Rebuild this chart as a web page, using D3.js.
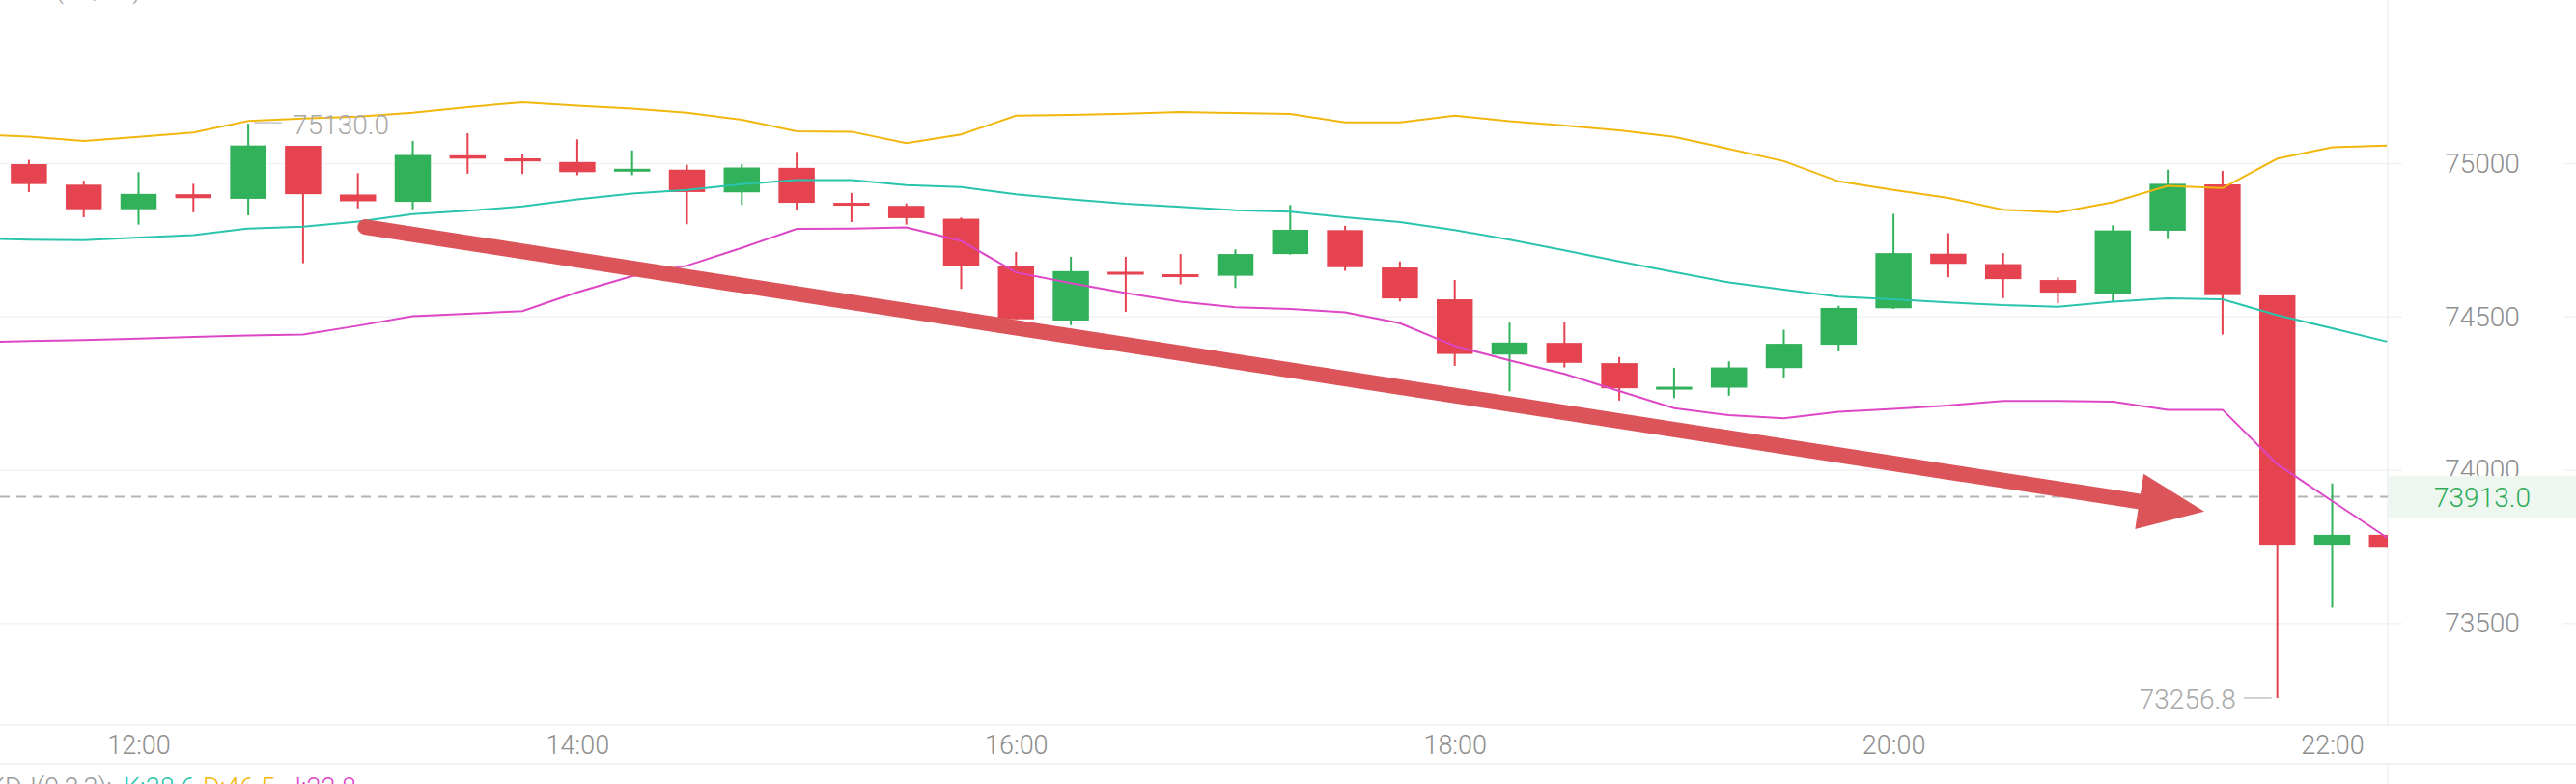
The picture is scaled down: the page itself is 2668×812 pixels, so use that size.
<!DOCTYPE html>
<html>
<head>
<meta charset="utf-8">
<script src="https://cdn.jsdelivr.net/npm/d3@7"></script>
<style>
  body { margin: 0; background: #fff; }
  svg { display: block; font-family: Roboto, "Noto Sans", sans-serif; font-weight: 300; }
</style>
</head>
<body>
<div class="chartCont"></div>
<script>
const w = 2668;
const h = 812;

// 15 minute candles
const times = ["11:30","11:45","12:00","12:15","12:30","12:45","13:00","13:15","13:30","13:45",
  "14:00","14:15","14:30","14:45","15:00","15:15","15:30","15:45","16:00","16:15",
  "16:30","16:45","17:00","17:15","17:30","17:45","18:00","18:15","18:30","18:45",
  "19:00","19:15","19:30","19:45","20:00","20:15","20:30","20:45","21:00","21:15",
  "21:30","21:45","22:00","22:15"];
const open = [74998,74931,74851,74900,74885,75058,74899,74875,75027,75017,
  75005,74977,74980,74906,74986,74872,74862,74820,74667,74488,
  74647,74639,74634,74705,74783,74661,74557,74377,74415,74349,
  74267,74269,74333,74409,74528,74706,74672,74620,74576,74781,
  74932,74570,73757,73789];
const high = [75012,74944,74972,74934,75130,75058,74969,75074,75099,75030,
  75079,75043,74996,74998,75038,74904,74870,74824,74712,74696,
  74696,74705,74720,74865,74797,74681,74620,74481,74482,74369,
  74334,74355,74458,74536,74836,74773,74708,74629,74799,74980,
  74976,74570,73957,73789];
const low = [74907,74825,74801,74841,74831,74675,74854,74851,74967,74966,
  74962,74962,74802,74865,74847,74809,74801,74591,74492,74473,
  74516,74606,74594,74703,74650,74550,74340,74257,74335,74227,
  74235,74243,74302,74387,74526,74629,74561,74544,74550,74754,
  74442,73256.8,73551,73747];
const close = [74933,74851,74901,74887,75059,74900,74877,75028,75016,75007,
  74972,74983,74907,74987,74872,74864,74822,74667,74492,74649,
  74639,74634,74705,74784,74662,74560,74379,74416,74350,74267,
  74272,74335,74412,74529,74708,74673,74623,74579,74782,74934,
  74571,73757,73789,73747];

// Bollinger bands, first point is the candle just left of the view
const bollTimes = ["11:15"].concat(times);
const bollUp = [75095,75088,75074,75087,75101,75139,75147,75153,75166,75184,
  75200,75189,75179,75166,75143,75105,75104,75067,75095,75156,
  75159,75163,75168,75165,75162,75134,75134,75156,75138,75124,
  75108,75087,75048,75008,74942,74914,74888,74849,74841,74874,
  74927,74920,75016,75053,75059];
const bollMid = [74756,74752,74750,74759,74767,74788,74794,74811,74835,74846,
  74860,74883,74902,74914,74933,74946,74946,74930,74923,74900,
  74883,74869,74859,74848,74843,74825,74809,74783,74752,74717,
  74681,74646,74612,74589,74566,74557,74547,74538,74533,74549,
  74560,74557,74505,74463,74419];
const bollDn = [74417,74421,74424,74429,74434,74439,74442,74471,74502,74510,
  74519,74580,74633,74667,74725,74787,74788,74792,74748,74645,
  74610,74578,74549,74531,74526,74515,74479,74405,74358,74314,
  74258,74202,74179,74169,74190,74200,74211,74226,74226,74223,
  74197,74197,74019,73899,73780];

const yTicks = [73500, 74000, 74500, 75000];
const lastPrice = 73913.0;
const maxMark = ["12:30", 75130.0];
const minMark = ["21:45", 73256.8];
const trendArrow = [["13:02", 74793], ["21:25", 73865]];
const kdjLabels = ["KDJ(9,3,3):", "K:38.6", "D:46.5", "J:22.8"];

const up = "#31b15a", down = "#e4434f";
const bandColors = ["#f2b70f", "#2ac4ad", "#dd47c6"];
const kdjColors = ["#9a9a9a", "#2ac4ad", "#f2b70f", "#dd47c6"];

const plotRight = 2473;
const axisTop = 750.7, axisBottom = 791;

const parse = d3.utcParse("%H:%M");

const x = d3.scaleUtc()
  .domain([parse("11:30"), parse("22:15")])
  .range([29.9, 2472.3]);

const y = d3.scaleLinear()
  .domain([73500, 75000])
  .range([645.7, 169.4]);

const step = x(parse("11:45")) - x(parse("11:30"));
const bodyW = step * 0.66;

const svg = d3.select(".chartCont").append("svg")
  .attr("width", w)
  .attr("height", h);

svg.append("defs").append("clipPath").attr("id", "plotClip")
  .append("rect").attr("x", 0).attr("y", 0).attr("width", plotRight).attr("height", axisTop);

// grid
svg.append("g").selectAll("line")
  .data(yTicks)
  .enter().append("line")
  .attr("x1", 0).attr("x2", w)
  .attr("y1", d => y(d)).attr("y2", d => y(d))
  .attr("stroke", "#f1f2f4").attr("stroke-width", 1.5);

svg.append("line")
  .attr("x1", plotRight).attr("x2", plotRight)
  .attr("y1", 0).attr("y2", h)
  .attr("stroke", "#eeeff1").attr("stroke-width", 1.5);

const plot = svg.append("g").attr("clip-path", "url(#plotClip)");

// last price dashed line
plot.append("line")
  .attr("x1", 0).attr("x2", plotRight)
  .attr("y1", y(lastPrice)).attr("y2", y(lastPrice))
  .attr("stroke", "#b3b3b3").attr("stroke-width", 2)
  .attr("stroke-dasharray", "10,7");

// candles
const candles = times.map((t, i) => ({t: parse(t), o: open[i], h: high[i], l: low[i], c: close[i]}));

const cg = plot.selectAll(".candle")
  .data(candles)
  .enter().append("g")
  .attr("class", "candle")
  .attr("fill", d => d.c >= d.o ? up : down)
  .attr("stroke", d => d.c >= d.o ? up : down);

cg.append("line")
  .attr("x1", d => x(d.t)).attr("x2", d => x(d.t))
  .attr("y1", d => y(d.h)).attr("y2", d => y(d.l))
  .attr("stroke-width", 2);

cg.append("rect")
  .attr("x", d => x(d.t) - bodyW / 2)
  .attr("width", bodyW)
  .attr("y", d => Math.min(y(d.o), y(d.c)))
  .attr("height", d => Math.max(3, Math.abs(y(d.o) - y(d.c))))
  .attr("stroke", "none");

// bollinger lines
const line = d3.line()
  .x(d => x(d[0]))
  .y(d => y(d[1]));

[bollUp, bollMid, bollDn].forEach((band, k) => {
  plot.append("path")
    .datum(band.map((v, i) => [parse(bollTimes[i]), v]))
    .attr("fill", "none")
    .attr("stroke", bandColors[k])
    .attr("stroke-width", 2)
    .attr("d", line);
});

// trend arrow
const a0 = [x(parse(trendArrow[0][0])), y(trendArrow[0][1])];
const a1 = [x(parse(trendArrow[1][0])), y(trendArrow[1][1])];
const ang = Math.atan2(a1[1] - a0[1], a1[0] - a0[0]);
const headLen = 68, headHalf = 29;
const base = [a1[0] - headLen * Math.cos(ang), a1[1] - headLen * Math.sin(ang)];
const arrowCol = "#db5459";

plot.append("line")
  .attr("x1", a0[0]).attr("y1", a0[1])
  .attr("x2", base[0] + 6 * Math.cos(ang)).attr("y2", base[1] + 6 * Math.sin(ang))
  .attr("stroke", arrowCol).attr("stroke-width", 16)
  .attr("stroke-linecap", "round");

plot.append("path")
  .attr("d", d3.line()([
    [base[0] + headHalf * Math.sin(ang), base[1] - headHalf * Math.cos(ang)],
    a1,
    [base[0] - headHalf * Math.sin(ang), base[1] + headHalf * Math.cos(ang)]
  ]) + "Z")
  .attr("fill", arrowCol);

// high / low markers
const hx = x(parse(maxMark[0])), hy = y(maxMark[1]);
svg.append("line")
  .attr("x1", hx + 6).attr("x2", hx + 35)
  .attr("y1", hy - 1).attr("y2", hy - 1)
  .attr("stroke", "#c4c4c4").attr("stroke-width", 1.5);
svg.append("text")
  .attr("x", hx + 46).attr("y", hy + 1)
  .attr("dy", "0.35em")
  .attr("font-size", 28).attr("fill", "#a8a8a8")
  .text(d3.format(".1f")(maxMark[1]));

const lx = x(parse(minMark[0])), ly = y(minMark[1]);
svg.append("line")
  .attr("x1", lx - 35).attr("x2", lx - 6)
  .attr("y1", ly).attr("y2", ly)
  .attr("stroke", "#c4c4c4").attr("stroke-width", 1.5);
svg.append("text")
  .attr("x", lx - 43).attr("y", ly + 1)
  .attr("dy", "0.35em")
  .attr("text-anchor", "end")
  .attr("font-size", 28).attr("fill", "#a8a8a8")
  .text(d3.format(".1f")(minMark[1]));

// y axis labels
const yAxis = svg.append("g")
  .attr("transform", `translate(2571,0)`)
  .call(d3.axisRight(y).tickValues(yTicks).tickSize(0).tickPadding(0).tickFormat(d3.format("d")));
yAxis.select(".domain").remove();
yAxis.selectAll(".tick").insert("rect", "text")
  .attr("x", -83).attr("width", 167)
  .attr("y", -16).attr("height", 32)
  .attr("fill", "#fff");
yAxis.selectAll("text")
  .attr("x", 0)
  .attr("text-anchor", "middle")
  .attr("font-family", "Roboto, 'Noto Sans', sans-serif")
  .attr("font-size", 28)
  .attr("fill", "#8e8e8e");

// last price tag
svg.append("rect")
  .attr("x", plotRight + 1).attr("width", w - plotRight)
  .attr("y", y(lastPrice) - 21.5).attr("height", 43)
  .attr("fill", "#edf7f0");
svg.append("text")
  .attr("x", 2571).attr("y", y(lastPrice) + 1)
  .attr("dy", "0.35em")
  .attr("text-anchor", "middle")
  .attr("font-size", 28).attr("fill", "#2eab57")
  .text(d3.format(".1f")(lastPrice));

// time axis row
svg.append("rect")
  .attr("x", 0).attr("width", w)
  .attr("y", axisTop).attr("height", axisBottom - axisTop)
  .attr("fill", "#fff");
[axisTop, axisBottom].forEach(v => {
  svg.append("line")
    .attr("x1", 0).attr("x2", w)
    .attr("y1", v).attr("y2", v)
    .attr("stroke", "#f0f1f3").attr("stroke-width", 2);
});

const xAxis = svg.append("g")
  .attr("transform", `translate(0,${(axisTop + axisBottom) / 2})`)
  .call(d3.axisBottom(x).ticks(d3.utcHour.every(2)).tickSize(0).tickFormat(d3.utcFormat("%H:%M")));
xAxis.select(".domain").remove();
xAxis.selectAll("text")
  .attr("y", 1)
  .attr("dy", "0.35em")
  .attr("font-family", "Roboto, 'Noto Sans', sans-serif")
  .attr("font-size", 27)
  .attr("fill", "#8e8e8e");

// indicator captions, cut by the edges
svg.append("text")
  .attr("x", -6).attr("y", -2)
  .attr("font-size", 27).attr("fill", "#a0a0a0")
  .text("BOLL(20,2.0)");

const kdjX = [-12, 128, 210, 297];
const kdj = svg.append("text")
  .attr("y", 825)
  .attr("font-size", 27);
kdj.selectAll("tspan")
  .data(kdjLabels)
  .enter().append("tspan")
  .attr("x", (d, i) => kdjX[i])
  .attr("fill", (d, i) => kdjColors[i])
  .text(d => d);
</script>
</body>
</html>
